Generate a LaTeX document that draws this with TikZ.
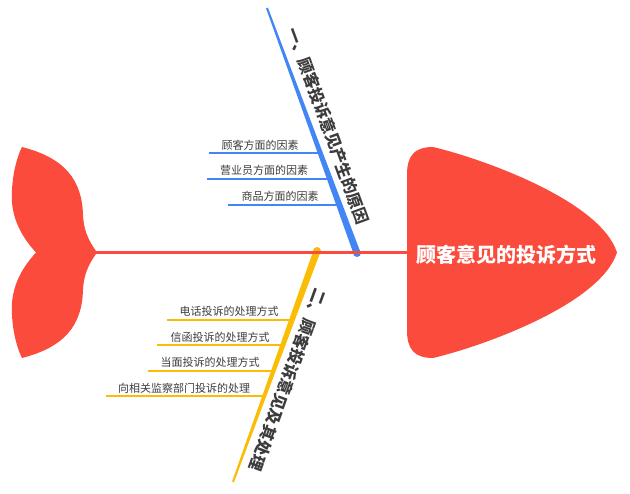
\documentclass[tikz,border=0pt]{standalone}
\usepackage{fontspec}
\setmainfont{Noto Sans CJK SC}
\usepackage{tikz}
\usetikzlibrary{calc,positioning}
\definecolor{fishRed}{RGB}{250,75,60}
\definecolor{causeBlue}{RGB}{66,133,244}
\definecolor{dealYellow}{RGB}{251,188,5}
\definecolor{txtGray}{RGB}{60,60,60}

\begin{document}
\begin{tikzpicture}[x=1pt, y=-1pt,
    item/.style={text=txtGray, font=\fontsize{11}{13}\selectfont, inner sep=0pt},
    bonelbl/.style={text=txtGray, font=\fontsize{16}{18}\selectfont\bfseries, inner sep=0pt},
    spine/.style={draw=fishRed, line width=3pt},
    twig/.style={line width=1.8pt},
  ]
    \useasboundingbox (0,0) rectangle (630,494);

    % tail
    \fill[fishRed] (97,252.5) .. controls (92,245) and (84,235) .. (83,215)
      .. controls (82,180) and (65,158) .. (22,147)
      .. controls (18,155) and (13,170) .. (12,190)
      .. controls (10,215) and (20,235) .. (36,252.5)
      .. controls (20,270) and (10,290) .. (12,315)
      .. controls (13,335) and (18,350) .. (22,358)
      .. controls (65,347) and (82,325) .. (83,290)
      .. controls (84,270) and (92,260) .. cycle;

    \coordinate (tailtip) at (96,253);
    \coordinate (headbase) at (408,253);

    % bones
    \coordinate (causetop) at (267,8);
    \coordinate (causeend) at (357,253);
    \coordinate (dealtop) at (317,251);
    \coordinate (dealend) at (233,482);

    \fill[causeBlue] ($(causetop)!1pt!90:(causeend)$) -- ($(causetop)!1pt!-90:(causeend)$)
      -- ($(causeend)!3.5pt!90:(causetop)$) -- ($(causeend)!3.5pt!-90:(causetop)$) -- cycle;
    \fill[causeBlue] (causeend) circle (4);
    \fill[dealYellow] ($(dealtop)!3.5pt!90:(dealend)$) -- ($(dealtop)!3.5pt!-90:(dealend)$)
      -- ($(dealend)!1pt!90:(dealtop)$) -- ($(dealend)!1pt!-90:(dealtop)$) -- cycle;
    \fill[dealYellow] (dealtop) circle (4);

    \node[bonelbl, rotate=-70] (causelbl) at (328,126) {一、顾客投诉意见产生的原因};
    \node[bonelbl, rotate=-110] (deallbl) at (288,380) {二、顾客投诉意见及其处理};

    % causes
    \node[item] (c1) at (260,145) {顾客方面的因素};
    \node[item] (c2) at (264,170) {营业员方面的因素};
    \node[item] (c3) at (280,196) {商品方面的因素};
    \coordinate (c1l) at (209,153); \coordinate (c1r) at (320,153);
    \coordinate (c2l) at (207,179); \coordinate (c2r) at (329,179);
    \coordinate (c3l) at (228,205); \coordinate (c3r) at (339,205);
    \foreach \i in {1,2,3}
      \draw[twig, causeBlue] (c\i l) -- (c\i r);

    % handling
    \node[item] (d1) at (229,311) {电话投诉的处理方式};
    \node[item] (d2) at (220,337) {信函投诉的处理方式};
    \node[item] (d3) at (210,362) {当面投诉的处理方式};
    \node[item] (d4) at (184,388) {向相关监察部门投诉的处理};
    \coordinate (d1l) at (167,320); \coordinate (d1r) at (292,320);
    \coordinate (d2l) at (157,345); \coordinate (d2r) at (283,345);
    \coordinate (d3l) at (148,371); \coordinate (d3r) at (273,371);
    \coordinate (d4l) at (106,396); \coordinate (d4r) at (264,396);
    \foreach \i in {1,...,4}
      \draw[twig, dealYellow] (d\i l) -- (d\i r);

    \draw[spine] (tailtip) -- (headbase);

    % head
    \fill[fishRed] (407,175) .. controls (407,156) and (414,147) .. (433,147)
      .. controls (480,158) and (600,200) .. (617,252.5)
      .. controls (600,305) and (480,347) .. (433,358)
      .. controls (414,358) and (407,349) .. (407,330) -- cycle;
    \node[text=white, font=\fontsize{20}{23}\selectfont\bfseries] (head) at (506,255) {顾客意见的投诉方式};
  \end{tikzpicture}
\end{document}
